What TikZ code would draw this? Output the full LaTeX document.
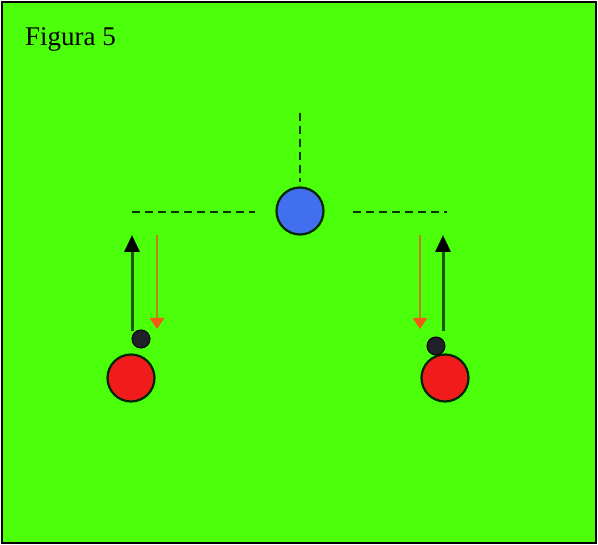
\documentclass[tikz,border=0pt]{standalone}
\usepackage{fontspec}
\setmainfont{Liberation Serif}
\usetikzlibrary{arrows.meta}
\definecolor{fieldgreen}{RGB}{76,255,10}
\definecolor{pblue}{RGB}{66,110,240}
\definecolor{pred}{RGB}{240,28,28}
\definecolor{pdark}{RGB}{32,32,40}
\definecolor{runline}{RGB}{20,90,10}
\definecolor{passline}{RGB}{190,130,20}
\definecolor{passhead}{RGB}{240,90,20}
\tikzset{
  player/.style={circle, draw=black!85!green, line width=2.2pt, minimum size=47pt, inner sep=0pt},
  ball/.style={circle, fill=pdark, draw=black, line width=1pt, minimum size=18pt, inner sep=0pt},
  guide/.style={draw=black!80!green, line width=2.5pt, dash pattern=on 8pt off 5pt},
  run/.style={draw=runline, line width=3pt, -{Triangle[length=17pt,width=15pt,fill=black,color=black]}},
  pass/.style={draw=passline, line width=2.6pt, -{Triangle[length=11pt,width=14pt,fill=passhead,color=passhead]}}
}
\begin{document}
\begin{tikzpicture}[x=1pt,y=-1pt]
\useasboundingbox (0,0) rectangle (598,545);
\draw[fill=fieldgreen, draw=black, line width=2pt] (2,2) rectangle (596,543);
\node[anchor=base west, inner sep=0pt, font=\fontsize{27}{30}\selectfont] (title) at (25,46) {Figura 5};
% dashed guides
\coordinate (vt) at (300,113);
\coordinate (vb) at (300,182);
\coordinate (hl1) at (132,212);
\coordinate (hl2) at (255,212);
\coordinate (hr1) at (353,212);
\coordinate (hr2) at (447,212);
\draw[guide] (vt) -- (vb);
\draw[guide] (hl1) -- (hl2);
\draw[guide] (hr1) -- (hr2);
% players
\node[player, fill=pblue] (blue) at (300,211) {};
\node[player, fill=pred] (redL) at (131,378) {};
\node[player, fill=pred] (redR) at (445,378) {};
\node[ball] (ballL) at (141,339) {};
\node[ball] (ballR) at (436,346) {};
% arrows
\coordinate (rlS) at (132,331);
\coordinate (rlE) at (132,235);
\coordinate (plS) at (157,235);
\coordinate (plE) at (157,329);
\coordinate (rrS) at (443,331);
\coordinate (rrE) at (443,235);
\coordinate (prS) at (420,235);
\coordinate (prE) at (420,329);
\draw[run] (rlS) -- (rlE);
\draw[run] (rrS) -- (rrE);
\draw[pass] (plS) -- (plE);
\draw[pass] (prS) -- (prE);
\end{tikzpicture}
\end{document}
